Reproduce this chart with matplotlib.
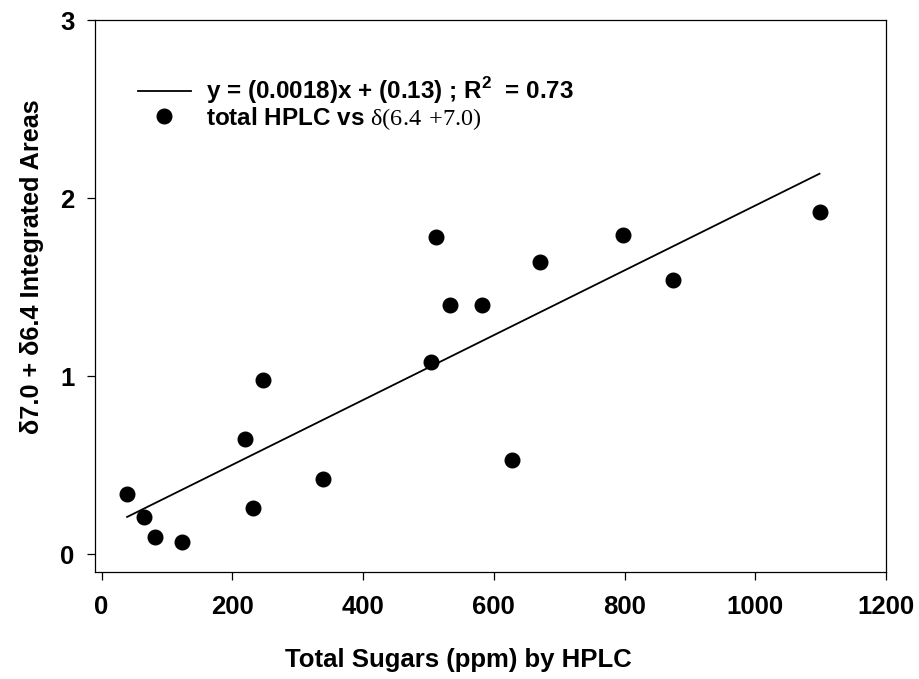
import matplotlib
matplotlib.use("Agg")
import matplotlib.pyplot as plt
from matplotlib.lines import Line2D

plt.rcParams['font.family'] = ['Liberation Sans', 'DejaVu Sans']
plt.rcParams['font.weight'] = 'bold'
plt.rcParams['mathtext.fontset'] = 'custom'
plt.rcParams['mathtext.rm'] = 'Liberation Serif:weight=regular'
plt.rcParams['mathtext.sf'] = 'Liberation Sans:weight=bold'

# Data
sugars_ppm = [39.1, 64.2, 81.5, 123.2, 218.7, 231.8, 246.6, 339.4, 503.5, 511.6,
              532.6, 581.5, 627.4, 670.6, 797.1, 873.5, 1098.3]
areas = [0.340, 0.209, 0.095, 0.069, 0.649, 0.260, 0.979, 0.421, 1.080, 1.781,
         1.400, 1.400, 0.531, 1.641, 1.791, 1.540, 1.920]
fit_slope = 0.00182
fit_intercept = 0.138
fit_label = r"y = (0.0018)x + (0.13) ; R$^{\mathsf{2}}$  = 0.73"
scatter_label = r"total HPLC vs $\mathrm{δ(6.4\ {+}7.0)}$"
xticks = [0, 200, 400, 600, 800, 1000, 1200]
yticks = [0, 1, 2, 3]

fig = plt.figure(figsize=(9.19, 6.79), dpi=100)
ax = fig.add_axes([0.1034, 0.1576, 0.8607, 0.8129])

fx = [min(sugars_ppm), max(sugars_ppm)]
fy = [fit_slope * v + fit_intercept for v in fx]
ax.plot(fx, fy, color='black', lw=1.3)
ax.plot(sugars_ppm, areas, 'o', color='black', ms=10.5, mec='black')

ax.set_xlim(-10, 1200)
ax.set_ylim(-0.1, 3)
ax.set_xticks(xticks)
ax.set_yticks(yticks)
ax.tick_params(direction='out', length=5.8, width=0.9, labelsize=18.5)
ax.tick_params(axis='x', pad=11)
ax.tick_params(axis='y', pad=9)
for s in ax.spines.values():
    s.set_linewidth(0.9)

ax.set_xlabel("Total Sugars (ppm) by HPLC", fontsize=18.5, fontweight='bold')
ax.set_ylabel("δ7.0 + δ6.4 Integrated Areas", fontsize=18.2, fontweight='bold')
ax.xaxis.set_label_coords(0.459, -0.138)
ax.yaxis.set_label_coords(-0.0645, 0.553)

handles = [Line2D([], [], color='black', lw=1.3),
           Line2D([], [], ls='none', marker='o', color='black', ms=10.5)]
leg = ax.legend(handles, [fit_label, scatter_label], loc='upper left',
                bbox_to_anchor=(0.054, 0.9), borderaxespad=0, borderpad=0,
                frameon=False, handlelength=2.2, handletextpad=0.62,
                labelspacing=-0.05, prop={'size': 17.5, 'weight': 'bold'})

fig.savefig("out.png", dpi=100)
